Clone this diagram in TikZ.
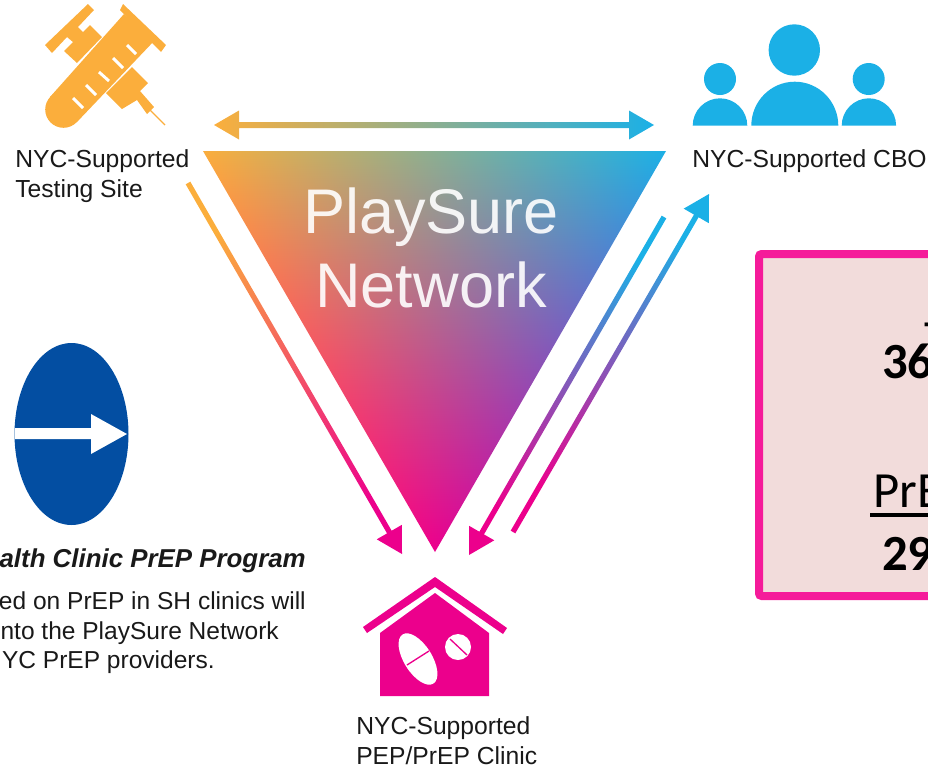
\documentclass[tikz,border=0pt]{standalone}
\usepackage{fontspec}
\setmainfont{Liberation Sans}
\newfontfamily\boxfont{Carlito}
\usetikzlibrary{calc,positioning}

\definecolor{syringeorange}{HTML}{FBAE3C}
\definecolor{cboblue}{HTML}{1BB0E6}
\definecolor{clinicpink}{HTML}{EC008C}
\definecolor{programblue}{HTML}{034EA2}
\definecolor{boxpink}{HTML}{F51B9A}
\definecolor{boxfill}{HTML}{F2DCDB}

% orange, blue and pink at the three corners of the box's triangle
\pgfdeclarefunctionalshading{networkshade}{\pgfpoint{-50bp}{-50bp}}{\pgfpoint{50bp}{50bp}}{}{
  25 add 50 div exch 25 add 50 div exch
  dup 1 exch sub 0.5 mul
  3 -1 roll exch sub
  2 copy sub
  3 -1 roll 1 exch sub
  2 index 0.11 mul 2 index 0.98 mul add 1 index 0.925 mul add
  3 index 0.69 mul 3 index 0.68 mul add 2 index 0.0 mul add
  4 index 0.90 mul 4 index 0.24 mul add 3 index 0.55 mul add
  6 3 roll pop pop pop
}

% from/to/colour at from/colour at to
\newcommand{\gradarrow}[4]{%
  \pgfpointdiff{\pgfpointanchor{#1}{center}}{\pgfpointanchor{#2}{center}}
  \pgfgetlastxy{\dx}{\dy}
  \pgfmathsetmacro{\ang}{atan2(\dy,\dx)-90}
  \coordinate (h) at ($(#2)!19pt!(#1)$);
  \path[bottom color=#3,top color=#4,shading angle=\ang]
    ($(#1)!2pt!90:(#2)$) -- ($(h)!2pt!90:(#2)$) -- ($(h)!10.9pt!90:(#2)$) -- (#2)
    -- ($(h)!10.9pt!-90:(#2)$) -- ($(h)!2pt!-90:(#2)$) -- ($(#1)!2pt!-90:(#2)$) -- cycle;
}

\begin{document}
\begin{tikzpicture}[
      x=0.75pt,y=-0.75pt,
      sitelabel/.style={
         align=left,
         inner sep=0pt,
         font=\fontsize{18.5}{22.5}\selectfont,
         text=black!90},
      bodyline/.style={
         anchor=base east,
         inner sep=0pt,
         font=\fontsize{18.4}{22}\selectfont,
         text=black!90},
      boxtext/.style={
         anchor=base west,
         inner sep=0pt,
         font=\boxfont\fontsize{38}{46}\selectfont},
      boxnumber/.style={
         boxtext,
         font=\boxfont\bfseries\fontsize{38}{46}\selectfont},
      tick/.style={white,line width=2.2pt}
      ]
      \useasboundingbox (0,0) rectangle (928,768);

      % triangle
      \path[shading=networkshade] (203,151) -- (666,151) -- (435,552) -- cycle;
      \node[font=\fontsize{47.3}{55.5}\selectfont,align=center,text=white,text opacity=0.9,inner sep=0pt] (net) at (431,248) {PlaySure\\Network};

      % test tube and syringe
      \fill[syringeorange] (123,4) -- (166,45) -- (161,52) -- (120,10) -- cycle;
      \fill[syringeorange] (124,14) -- (155,40) -- (77,122) -- (50,97) -- cycle;
      \fill[syringeorange] (63.5,109.5) circle (18.3);
      \foreach \i/\j/\k/\l in {127/45/136/54,113/58/123/68,99/72/109/81,86/85/96/95,73/98/83/108}
         \draw[tick] (\i,\j) -- (\k,\l);
      \fill[syringeorange] (45,45) -- (88,4) -- (94,10) -- (78,27) -- (83,32) -- (90,25) -- (102,37)
         -- (77,63) -- (64,51) -- (73,42) -- (67,37) -- (52,53) -- cycle;
      \fill[syringeorange] (106,93) -- (132,67) -- (148,83) -- (140,91) -- (154,107) -- (147,114)
         -- (137,100) -- (122,109) -- cycle;
      \draw[syringeorange,line width=1pt] (150,110) -- (165,125);
      \node[sitelabel,anchor=north west] (testing) at (15,149) {NYC-Supported\\Testing Site};

      % people
      \fill[cboblue] (794.3,50) circle (25.7);
      \fill[cboblue] (720,79) circle (16);
      \fill[cboblue] (868.7,79) circle (16);
      \fill[cboblue] (751.3,125.7) arc (180:360:43.5 and 44) -- cycle;
      \fill[cboblue] (692.7,125.7) arc (180:360:27.3 and 27.4) -- cycle;
      \fill[cboblue] (841.7,125.7) arc (180:360:27.2 and 27.4) -- cycle;
      \node[sitelabel,anchor=north west] (cbo) at (692,149) {NYC-Supported CBO};

      % clinic
      \fill[clinicpink] (435,577) -- (507,628) -- (503,634) -- (435,587) -- (367,633) -- (363,627) -- cycle;
      \fill[clinicpink] (380,633) -- (435,593) -- (489,633) -- (489,696) -- (380,696) -- cycle;
      \fill[white,rotate around={-58:(418,659)}] (418,659) ellipse (29 and 14);
      \draw[clinicpink,line width=1pt] (407,665) -- (429,651);
      \fill[white] (458,647) circle (13);
      \draw[clinicpink,line width=1pt] (450,639) -- (467,655);
      \node[sitelabel,anchor=north west] (clinic) at (356,716) {NYC-Supported\\PEP/PrEP Clinic};

      % program
      \fill[programblue] (71.5,434) ellipse (57 and 91);
      \fill[white] (15,428) -- (91,428) -- (91,414) -- (127,434) -- (91,454) -- (91,439) -- (15,439) -- cycle;
      \node[anchor=base east,inner sep=0pt,font=\bfseries\itshape\fontsize{19.4}{22}\selectfont,text=black!90] (prog) at (306,567) {alth Clinic PrEP Program};
      \node[bodyline] (prog1) at (306,609) {ed on PrEP in SH clinics will};
      \node[bodyline] (prog2) at (279,639) {nto the PlaySure Network};
      \node[bodyline] (prog3) at (215,668) {NYC PrEP providers.};

      % box
      \draw[boxpink,fill=boxfill,line width=6pt,rounded corners=2pt]
         (928,254) -- (759,254) -- (759,596) -- (928,596);
      \node[boxtext] (t) at (924,355) {T};
      \node[boxnumber] (n1) at (882,378) {36};
      \node[boxtext] (p) at (873,507) {PrE};
      \draw[line width=2.4pt] (870,515) -- (928,515);
      \node[boxnumber] (n2) at (882,570) {29};

      % connectors
      \coordinate (a1) at (188,183);
      \coordinate (a2) at (402,554);
      \coordinate (b1) at (664,217);
      \coordinate (b2) at (469,555);
      \coordinate (c1) at (513,532);
      \coordinate (c2) at (709,194);
      \coordinate (d1) at (214,125);
      \coordinate (d2) at (654,125);
      \gradarrow{a1}{a2}{syringeorange}{clinicpink}
      \gradarrow{b1}{b2}{cboblue}{clinicpink}
      \gradarrow{c1}{c2}{clinicpink}{cboblue}
      \path[left color=syringeorange,right color=cboblue]
         (d1) -- ++(25,-14.5) -- ++(0,11.5) -- ($(d2)+(-25,-3)$) -- ++(0,-11.5) -- (d2)
         -- ++(-25,14.5) -- ++(0,-11.5) -- ($(d1)+(25,3)$) -- ++(0,11.5) -- cycle;
\end{tikzpicture}
\end{document}
